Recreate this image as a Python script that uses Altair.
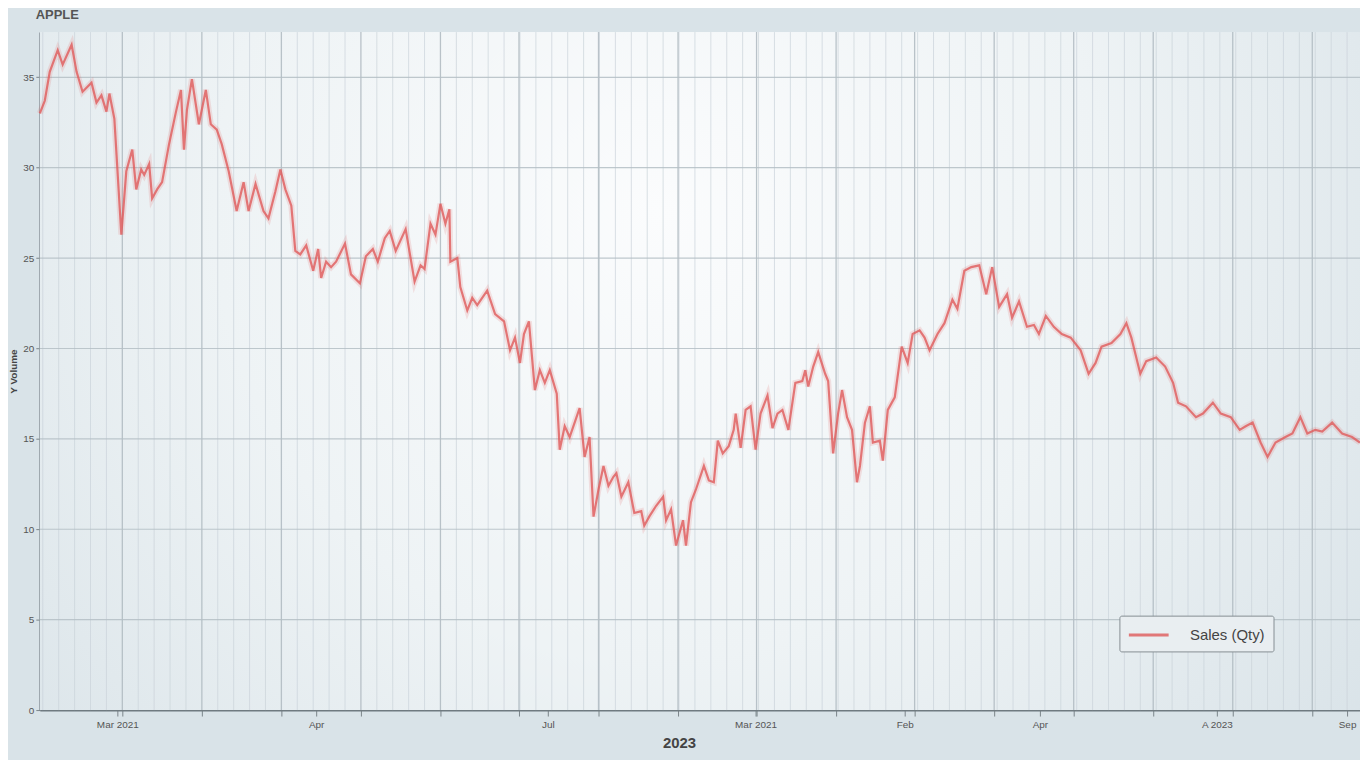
import altair as alt
import pandas as pd

# ---- data ----
t = [0, 5, 10, 18, 23, 32, 37, 43, 52, 57, 62, 67, 70, 75, 82, 87, 93, 97, 102, 105,
     110, 113, 118, 123, 130, 137, 142, 145, 148, 153, 160, 167, 172, 178, 183, 190, 198, 205, 210, 217,
     225, 230, 237, 242, 247, 253, 257, 262, 268, 275, 280, 283, 288, 293, 298, 307, 313, 322, 328, 335,
     340, 347, 352, 358, 368, 377, 383, 387, 393, 398, 403, 408, 412, 413, 420, 423, 430, 435, 440, 450,
     458, 467, 473, 478, 483, 487, 492, 498, 503, 508, 513, 520, 523, 528, 533, 543, 548, 553, 557, 562,
     567, 572, 577, 580, 585, 592, 598, 605, 608, 613, 620, 627, 630, 635, 640, 647, 650, 655, 660, 668,
     673, 678, 682, 687, 693, 698, 700, 705, 710, 715, 720, 725, 732, 737, 742, 747, 753, 760, 767, 770,
     773, 778, 783, 790, 793, 798, 803, 807, 812, 817, 822, 825, 830, 835, 838, 845, 848, 853, 860, 867,
     873, 878, 885, 890, 895, 903, 910, 918, 923, 930, 937, 945, 952, 958, 965, 973, 978, 985, 993, 1000,
     1005, 1012, 1020, 1028, 1037, 1047, 1055, 1062, 1068, 1078, 1087, 1093, 1098, 1107, 1113, 1123, 1132, 1140, 1145, 1153,
     1163, 1170, 1180, 1188, 1198, 1207, 1213, 1220, 1228, 1235, 1243, 1253, 1260, 1268, 1275, 1283, 1290, 1300, 1310, 1320,
     1328]
sales = [33.0, 33.7, 35.3, 36.5, 35.7, 36.8, 35.3, 34.2, 34.7, 33.6, 34.0, 33.1, 34.1, 32.7, 26.3, 29.8, 31.0, 28.8, 29.9, 29.6,
         30.2, 28.3, 28.8, 29.2, 31.3, 33.1, 34.3, 31.0, 33.2, 34.9, 32.4, 34.3, 32.4, 32.1, 31.3, 29.8, 27.6, 29.2, 27.6, 29.1,
         27.6, 27.2, 28.7, 29.9, 28.8, 27.9, 25.4, 25.2, 25.7, 24.3, 25.5, 23.9, 24.8, 24.5, 24.8, 25.8, 24.1, 23.6, 25.1, 25.5,
         24.8, 26.1, 26.5, 25.4, 26.6, 23.7, 24.6, 24.4, 26.9, 26.3, 28.0, 26.9, 27.7, 24.8, 25.0, 23.4, 22.1, 22.8, 22.4, 23.2,
         21.9, 21.5, 19.9, 20.6, 19.2, 20.8, 21.5, 17.7, 18.8, 18.1, 18.8, 17.5, 14.4, 15.7, 15.1, 16.7, 14.0, 15.1, 10.7, 12.2,
         13.5, 12.4, 12.9, 13.1, 11.8, 12.6, 10.9, 11.0, 10.2, 10.7, 11.3, 11.8, 10.5, 11.1, 9.1, 10.5, 9.1, 11.5, 12.2, 13.5,
         12.7, 12.6, 14.9, 14.2, 14.6, 15.5, 16.4, 14.5, 16.6, 16.8, 14.4, 16.4, 17.4, 15.6, 16.4, 16.6, 15.5, 18.1, 18.2, 18.8,
         17.9, 19.0, 19.8, 18.6, 18.2, 14.2, 16.4, 17.7, 16.2, 15.5, 12.6, 13.5, 15.9, 16.8, 14.8, 14.9, 13.8, 16.6, 17.3, 20.1,
         19.2, 20.8, 21.0, 20.6, 19.9, 20.8, 21.4, 22.7, 22.2, 24.3, 24.5, 24.6, 23.0, 24.5, 22.3, 23.0, 21.7, 22.6, 21.2, 21.3,
         20.8, 21.8, 21.2, 20.8, 20.6, 19.9, 18.6, 19.2, 20.1, 20.3, 20.8, 21.4, 20.6, 18.6, 19.3, 19.5, 19.0, 18.1, 17.0, 16.8,
         16.2, 16.4, 17.0, 16.4, 16.2, 15.5, 15.7, 15.9, 14.8, 14.0, 14.8, 15.1, 15.3, 16.2, 15.3, 15.5, 15.4, 15.9, 15.3, 15.1,
         14.8]
series_name = "Sales (Qty)"

tick_label_pos = [78, 278, 511, 720, 870, 1006, 1184, 1315]
tick_labels = ["Mar 2021", "Apr", "Jul", "Mar 2021", "Feb", "Apr", "A 2023", "Sep"]
major_grid = [83, 163, 243, 323, 403, 482, 562, 642, 721, 801, 880, 960, 1040, 1120, 1200, 1280]
minor_grid = [v for v in range(3, 1328, 16) if v not in major_grid]
y_ticks = [0, 5, 10, 15, 20, 25, 30, 35]

df = pd.DataFrame({"t": t, "value": sales, "series": series_name})

x_scale = alt.Scale(domain=[0, 1328], nice=False, zero=False)
y_scale = alt.Scale(domain=[0, 37.5], nice=False, zero=True)

# label expression built from label arrays
expr = "''"
for p, lab in reversed(list(zip(tick_label_pos, tick_labels))):
    expr = f"datum.value == {p} ? '{lab}' : ({expr})"

x_axis = alt.Axis(values=sorted(set(tick_label_pos + major_grid)), labelExpr=expr,
                  title="2023", grid=False, labelFontSize=10, labelColor="#555",
                  titleFontSize=15, titleColor="#444", titleFontWeight="bold",
                  titlePadding=6, titleX=643, tickColor="#7a8489", tickSize=6,
                  domainColor="#6f7a80", domainWidth=2, labelPadding=4,
                  labelFlush=False)
y_axis = alt.Axis(values=y_ticks, title="Y Volume", grid=False,
                  labelFontSize=10, labelColor="#555",
                  titleFontSize=10, titleColor="#444", titleFontWeight="bold",
                  titlePadding=4, tickColor="#7a8489", tickSize=4, labelPadding=2,
                  domainColor="#6f7a80", domainWidth=2)

X = alt.X("t:Q", scale=x_scale, axis=x_axis)
Y = alt.Y("value:Q", scale=y_scale, axis=y_axis)

bg = alt.Chart(pd.DataFrame({"a": [0]})).mark_rect(
    fill=alt.RadialGradient(
        gradient="radial",
        stops=[alt.GradientStop(offset=0, color="#fbfcfd"),
               alt.GradientStop(offset=0.45, color="#eef3f5"),
               alt.GradientStop(offset=1, color="#d4dfe5")],
        x1=0.47, y1=0.38, r1=0, x2=0.47, y2=0.38, r2=0.75),
).encode(x=alt.value(0), x2=alt.value("width"), y=alt.value(0), y2=alt.value("height"))

minor = alt.Chart(pd.DataFrame({"t": minor_grid})).mark_rule(
    color="#c9d3d9", strokeWidth=1, opacity=0.7
).encode(x=X)

major = alt.Chart(pd.DataFrame({"t": major_grid})).mark_rule(
    color="#aeb9bf", strokeWidth=1.3, opacity=0.85
).encode(x=X)

hgrid = alt.Chart(pd.DataFrame({"value": y_ticks[1:]})).mark_rule(
    color="#b4bec4", strokeWidth=1.2, opacity=0.85
).encode(y=Y)

glow = alt.Chart(df).mark_line(color="#e35d5d", strokeWidth=6, opacity=0.16).encode(x=X, y=Y)

line = alt.Chart(df).mark_line(strokeWidth=2.2, opacity=0.8).encode(
    x=X, y=Y,
    color=alt.Color("series:N", scale=alt.Scale(range=["#e05a5a"]),
                    legend=alt.Legend(orient="none", legendX=1086, legendY=587, title=None,
                                      strokeColor="#858e93", fillColor="#e9eef1",
                                      padding=8, symbolType="M-2,0H2", symbolStrokeWidth=3,
                                      symbolSize=400, symbolOffset=10,
                                      labelFontSize=15, labelColor="#444",
                                      labelOffset=30, cornerRadius=2)),
)

chart = alt.layer(bg, minor, major, hgrid, glow, line).properties(
    width=1328, height=682,
    autosize=alt.AutoSizeParams(type="none"),
    padding={"left": 32, "top": 22, "right": 0, "bottom": 48},
    title=alt.Title("APPLE", anchor="start", fontSize=13, fontWeight="bold", color="#555",
                    offset=10, dx=27),
).configure(background="#d9e3e8").configure_view(stroke=None)

chart.save("out.html", embed_options={"renderer": "svg", "actions": False})
